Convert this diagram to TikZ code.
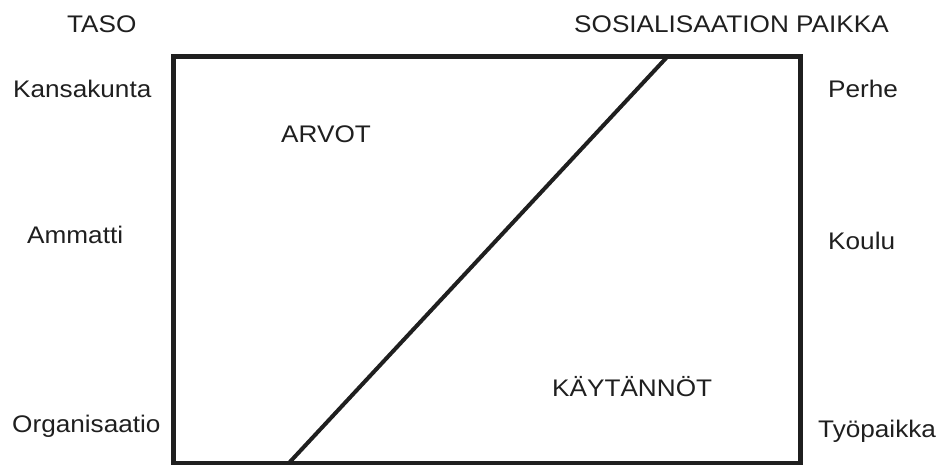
\documentclass[tikz,border=0pt]{standalone}
\usepackage{fontspec}
\setmainfont[FakeStretch=1.09]{Liberation Sans}
\begin{document}
\begin{tikzpicture}[x=1pt,y=-1pt,
  lbl/.style={inner sep=0pt,anchor=base west,font=\fontsize{24}{28}\selectfont,text=black!88},
  frame/.style={line width=5pt,draw=black!88},
  diag/.style={line width=4pt,draw=black!88}]
\useasboundingbox (0,0) rectangle (939,464);
\coordinate (tl) at (173,56);
\coordinate (br) at (800,463);
\draw[frame] (tl) rectangle (br);
\coordinate (dtop) at (668,56);
\coordinate (dbot) at (288,464);
\draw[diag] (dtop) -- (dbot);
\node[lbl] (taso) at (67,32) {TASO};
\node[lbl] (paikka) at (574,32) {SOSIALISAATION PAIKKA};
\node[lbl] (kansa) at (13,97) {Kansakunta};
\node[lbl] (ammatti) at (27,243) {Ammatti};
\node[lbl] (org) at (12,432) {Organisaatio};
\node[lbl] (perhe) at (828,97) {Perhe};
\node[lbl] (koulu) at (828,249) {Koulu};
\node[lbl] (tyo) at (818,437) {Työpaikka};
\node[lbl] (arvot) at (281,142) {ARVOT};
\node[lbl] (kayt) at (552,396) {KÄYTÄNNÖT};
\end{tikzpicture}
\end{document}
